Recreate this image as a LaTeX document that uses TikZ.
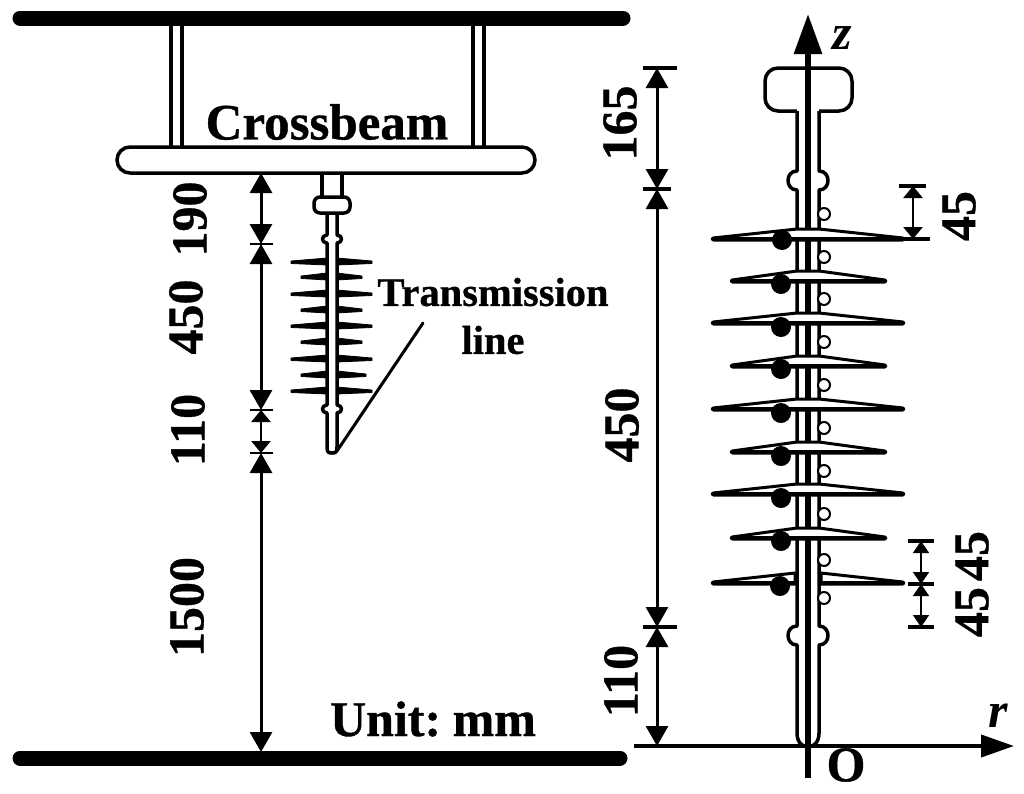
\documentclass[tikz,border=0pt]{standalone}
\usepackage{fontspec}
\setmainfont[BoldFeatures={FakeBold=0.7}]{Liberation Serif}
\usetikzlibrary{arrows.meta}
\tikzset{
 ol/.style={line width=3.5pt,draw=black},
 bar/.style={line width=15pt,line cap=round},
 dimA/.style={line width=3pt,{Triangle[length=20pt,width=22pt]}-{Triangle[length=20pt,width=22pt]}},
 dimB/.style={line width=2.5pt,{Triangle[length=12pt,width=19pt]}-{Triangle[length=12pt,width=19pt]}},
 dimC/.style={line width=1.6pt,{Triangle[length=12pt,width=16pt]}-{Triangle[length=12pt,width=16pt]}},
 tick/.style={line width=3.5pt},
 lab/.style={inner sep=0pt,font=\fontsize{50}{50}\selectfont\bfseries},
 rotlab/.style={lab,rotate=90},
 shedR/.style={ol,line width=3pt,fill=white,line join=round},
 dot/.style={circle,fill=black,inner sep=0pt,minimum size=20pt},
 hole/.style={circle,draw=black,line width=2pt,fill=white,inner sep=0pt,minimum size=12pt},
}
\newcommand{\wedgeshed}[3]{% y, left, right
 \fill[line join=round,draw=black,line width=0.8pt] (#2,#1-1) -- (327,#1-4) -- (327,#1+3) -- (#2,#1+1.5) -- cycle;
 \fill[line join=round,draw=black,line width=0.8pt] (#3,#1-1) -- (337,#1-4) -- (337,#1+3) -- (#3,#1+1.5) -- cycle;
}
\newcommand{\fullshed}[3]{% y, left, right
 \draw[shedR] (#2,#1-1) -- (797,#1-10) -- (819,#1-10) -- (#3,#1-1) -- (#3,#1+1) -- (#2,#1+1) -- cycle;
 \draw[line width=4.5pt,line cap=round] (#2,#1) -- (#3,#1);
}
\begin{document}
\begin{tikzpicture}[x=1pt,y=-1pt]
\useasboundingbox (0,0) rectangle (1024,793);
% ---- left: conductors and crossbeam
\draw[bar] (20,18) -- (623,18);
\draw[bar] (20,758) -- (620,758);
\draw[ol] (171,25) -- (171,147) (182,25) -- (182,147);
\draw[ol] (473,25) -- (473,147) (484,25) -- (484,147);
\draw[ol,rounded corners=13pt] (117,147) rectangle (535,173);
% ---- left: small insulator
\draw[ol] (322,173) -- (322,197) (342,173) -- (342,197);
\draw[ol,rounded corners=6pt] (314,197) rectangle (350,213);
\foreach \y/\l/\r in {262/291/372,277/301/362,294/291/372,310/301/362,326/291/372,342/301/362,359/291/372,375/301/366,391/291/372}{
  \wedgeshed{\y}{\l}{\r}
}
\draw[ol,line join=round] (327,213) -- (327,235) .. controls (321,235) and (321,243) .. (327,243)
  -- (327,405) .. controls (321,405) and (321,413) .. (327,413) -- (327,447)
  .. controls (327,453) and (329,453) .. (332,453) .. controls (335,453) and (337,453) .. (337,447)
  -- (337,413) .. controls (343,413) and (343,405) .. (337,405) -- (337,243)
  .. controls (343,243) and (343,235) .. (337,235) -- (337,213);
\coordinate (lineEnd) at (423,323);
\coordinate (lineStart) at (337,451);
\draw[line width=3pt,line cap=round] (lineStart) -- (lineEnd);
% ---- left: dimensions
\coordinate (a0) at (261,173);
\coordinate (a1) at (261,244);
\coordinate (a2) at (261,410);
\coordinate (a3) at (261,453);
\coordinate (a4) at (261,752);
\draw[dimA] (a0) -- (a1);
\draw[dimA] (a1) -- (a2);
\draw[dimB] (a2) -- (a3);
\draw[dimA] (a3) -- (a4);
\foreach \p in {a1,a2,a3}{\draw[line width=2.5pt] ([xshift=-11pt]\p) -- ([xshift=12pt]\p);}
\node[rotlab] (t190) at (190,219) {190};
\node[rotlab] (t450a) at (186,317) {450};
\node[rotlab] (t110a) at (188,430) {110};
\node[rotlab] (t1500) at (187,607) {1500};
\node[lab,font=\fontsize{51}{51}\selectfont\bfseries] (tcross) at (327,122) {Crossbeam};
\node[lab] (tunit) at (433,719) {Unit:\kern-1pt\ mm};
\node[inner sep=0pt,font=\fontsize{40.5}{40}\selectfont\bfseries] (ttrans) at (493,292) {Transmission};
\node[inner sep=0pt,font=\fontsize{40.5}{40}\selectfont\bfseries] (tline) at (493,340) {line};
% ---- right: axes
\coordinate (zBot) at (808,778);
\coordinate (zTop) at (808,14);
\coordinate (rL) at (634,746);
\coordinate (rR) at (1014,746);
\draw[line width=6pt,-{Triangle[length=40pt,width=27pt]}] (zBot) -- (zTop);
\draw[line width=4pt,-{Triangle[length=33pt,width=22pt]}] (rL) -- (rR);
% ---- right: insulator
\draw[ol,rounded corners=13pt] (797,111) -- (765,111) -- (765,68) -- (852,68) -- (852,111) -- (819,111);
\draw[ol,line join=round] (797,111) -- (797,171) .. controls (785,171) and (785,190) .. (797,190)
  -- (797,626) .. controls (785,626) and (785,645) .. (797,645) -- (797,733)
  .. controls (797,743) and (803,747) .. (808,747) .. controls (813,747) and (819,743) .. (819,733)
  -- (819,645) .. controls (831,645) and (831,626) .. (819,626) -- (819,190)
  .. controls (831,190) and (831,171) .. (819,171) -- (819,111);
\foreach \y/\l/\r in {239/713/903,323/713/903,409/713/903,494/713/903,281/732/885,366/732/885,452/732/885,538/732/885}{
  \fullshed{\y}{\l}{\r}
}
\draw[shedR] (713,582) -- (795,573) -- (795,584) -- (713,584) -- cycle;
\draw[shedR] (903,582) -- (821,573) -- (821,584) -- (903,584) -- cycle;
\draw[line width=4.5pt,line cap=round] (713,583) -- (795,583) (821,583) -- (903,583);
\foreach \n/\x/\y in {1/782/240,2/781/284,3/781/327,4/781/369,5/781/413,6/781/456,7/781/498,8/781/541,9/780/586}{
  \node[dot] (d\n) at (\x,\y) {};
}
\foreach \n/\y in {1/214,2/257,3/299,4/342,5/385,6/428,7/471,8/514,9/560,10/598}{
  \node[hole] (h\n) at (824,\y) {};
}
% ---- right: dimensions
\coordinate (b0) at (657,68);
\coordinate (b1) at (657,189);
\coordinate (b2) at (657,627);
\coordinate (b3) at (657,746);
\draw[dimA] (b0) -- (b1);
\draw[dimA] (b1) -- (b2);
\draw[dimA] (b2) -- (b3);
\draw[tick] (643,68) -- (677,68);
\draw[tick] (643,189) -- (671,189);
\draw[tick] (643,627) -- (677,627);
\coordinate (c0) at (913,186);
\coordinate (c1) at (913,239);
\draw[dimB] (c0) -- (c1);
\draw[tick] (899,186) -- (926,186);
\draw[tick] (900,239) -- (930,239);
\coordinate (e0) at (921,541);
\coordinate (e1) at (921,584);
\coordinate (e2) at (921,627);
\draw[dimC] (e0) -- (e1);
\draw[dimC] (e1) -- (e2);
\draw[tick] (908,541) -- (934,541);
\draw[tick] (908,584) -- (934,584);
\draw[tick] (908,627) -- (934,627);
\node[rotlab] (t165) at (620,123) {165};
\node[rotlab] (t450b) at (622,425) {450};
\node[rotlab] (t110b) at (621,681) {110};
\node[rotlab] (t45a) at (959,216) {45};
\node[rotlab] (t45b) at (972,556) {45};
\node[rotlab] (t45c) at (972,612) {45};
\node[inner sep=0pt,font=\fontsize{50}{50}\selectfont\bfseries\itshape] (tz) at (842,38) {z};
\node[inner sep=0pt,font=\fontsize{50}{50}\selectfont\bfseries\itshape] (tr) at (998,716) {r};
\node[lab] (tO) at (846,765) {O};
\end{tikzpicture}
\end{document}
